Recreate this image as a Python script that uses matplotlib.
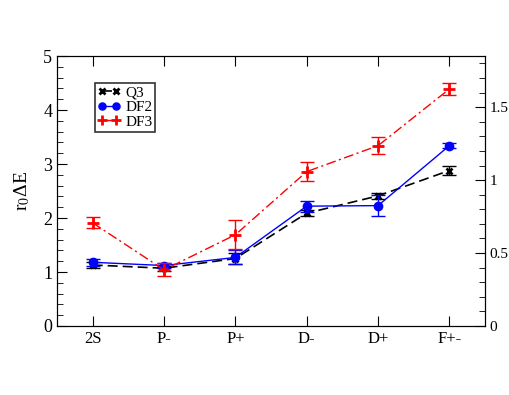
import matplotlib
matplotlib.use("Agg")
import matplotlib.pyplot as plt
from matplotlib.ticker import MultipleLocator, FormatStrFormatter

plt.rcParams['font.family'] = ['Liberation Serif', 'DejaVu Serif']
plt.rcParams['mathtext.fontset'] = 'stix'

categories = ["2S", "P-", "P+", "D-", "D+", "F+-"]
q3 = [1.13, 1.07, 1.25, 2.09, 2.41, 2.88]
q3_err = [0.05, 0.05, 0.10, 0.06, 0.06, 0.09]
df2 = [1.18, 1.12, 1.27, 2.22, 2.23, 3.34]
df2_err = [0.06, 0.05, 0.13, 0.10, 0.20, 0.05]
df3 = [1.91, 1.04, 1.69, 2.86, 3.34, 4.39]
df3_err = [0.10, 0.12, 0.27, 0.17, 0.16, 0.12]
right_scale = 0.37

fig = plt.figure(figsize=(5.1, 3.95), dpi=100)
ax = fig.add_axes([0.1118, 0.1747, 0.8392, 0.6833])
x = list(range(len(categories)))

styles = [
    dict(color='black', ls=(0, (6, 3)), lw=1.2, marker='x', ms=5, mew=2),
    dict(color='blue', ls='-', lw=1.0, marker='o', ms=6, mew=1),
    dict(color='red', ls=(0, (7, 2.5, 1.5, 2.5)), lw=1.0, marker='+', ms=8, mew=2),
]
series = [(q3, q3_err, 'Q3'), (df2, df2_err, 'DF2'), (df3, df3_err, 'DF3')]
for (vals, errs, lab), st in zip(series, styles):
    ax.errorbar(x, vals, yerr=errs, fmt='none', ecolor=st['color'],
                capsize=5, elinewidth=1.0, capthick=1.0)
    ax.plot(x, vals, label=lab, **st)

ax.set_xlim(-0.5, len(categories) - 0.5)
ax.set_ylim(0, 5)
ax.set_xticks(x)
ax.set_xticklabels(categories, fontsize=12)
ax.yaxis.set_major_locator(MultipleLocator(1))
ax.yaxis.set_minor_locator(MultipleLocator(0.2))
ax.tick_params(axis='y', which='both', direction='in', left=True, right=False, labelsize=13)
ax.tick_params(axis='y', which='major', length=7)
ax.tick_params(axis='y', which='minor', length=4)
ax.tick_params(axis='x', which='major', direction='in', top=True, bottom=True, length=7)
ax.set_ylabel(r'r$_0$ΔE', fontsize=14, labelpad=8)

ax2 = ax.twinx()
ax2.set_ylim(0, 5 * right_scale)
ax2.yaxis.set_major_locator(MultipleLocator(0.5))
ax2.yaxis.set_minor_locator(MultipleLocator(0.1))
ax2.yaxis.set_major_formatter(FormatStrFormatter('%g'))
ax2.tick_params(axis='y', which='both', direction='in', labelsize=11)
ax2.tick_params(axis='y', which='major', length=7)
ax2.tick_params(axis='y', which='minor', length=4)

leg = ax.legend(loc='upper left', bbox_to_anchor=(0.088, 0.9), fontsize=11,
                frameon=True, fancybox=False, edgecolor='black', numpoints=2,
                handlelength=1.5, handletextpad=0.3, borderpad=0.2,
                labelspacing=0.05, borderaxespad=0, markerscale=0.85)
leg.get_frame().set_linewidth(1.2)

fig.savefig("out.png", dpi=100)
